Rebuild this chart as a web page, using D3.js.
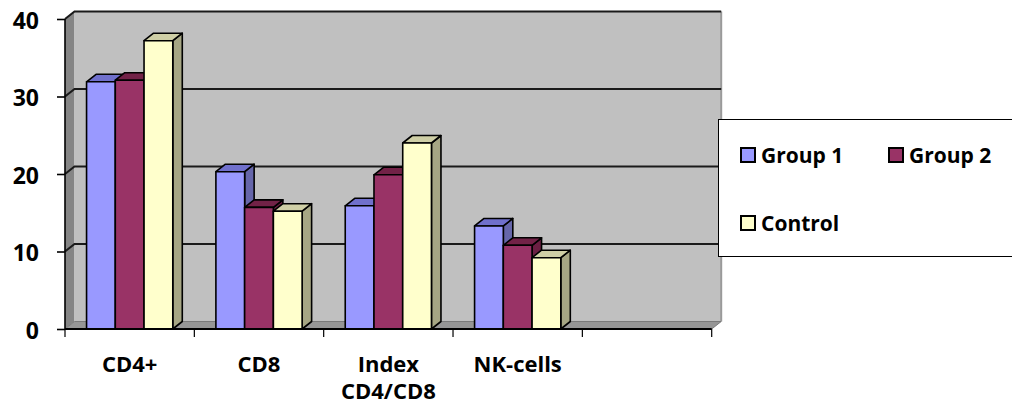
<!DOCTYPE html>
<html>
<head>
<meta charset="utf-8">
<script src="https://cdn.jsdelivr.net/npm/d3@7"></script>
<style>
  html, body { margin: 0; padding: 0; background: #fff; }
  text { font-family: "Open Sans", sans-serif; font-weight: 700; fill: #000; }
</style>
</head>
<body>
<script>
(function () {
  'use strict';

  // data
  const categories = ['CD4+', 'CD8', 'Index\nCD4/CD8', 'NK-cells', ''];
  const seriesNames = ['Group 1', 'Group 2', 'Control'];
  const group1  = [31.9, 20.3, 15.9, 13.3];
  const group2  = [32.1, 15.7, 19.9, 10.8];
  const control = [37.2, 15.2, 24.0, 9.2];
  const yTicks = [0, 10, 20, 30, 40];

  const seriesValues = [group1, group2, control];

  // colours: front, top, side
  const colors = [
    ['#9999ff', '#7070cc', '#6666aa'],
    ['#993366', '#722247', '#6b1f43'],
    ['#ffffcc', '#cfcfa6', '#a6a684']
  ];

  const W = 1012, H = 412;
  const DX = 9.5, DY = 7.5;   // 3d depth offset

  const svg = d3.select('body')
    .append('svg')
    .attr('width', W)
    .attr('height', H);

  const yScale = d3.scaleLinear()
    .domain([0, 40])
    .range([329, 19]);

  const xScale = d3.scaleBand()
    .domain(d3.range(categories.length))
    .range([65, 711.7]);

  const xInner = d3.scaleBand()
    .domain(seriesNames)
    .range([0, xScale.bandwidth()])
    .paddingInner(0)
    .paddingOuter(0.75);

  const x0 = xScale.range()[0], x1 = xScale.range()[1];
  const y0 = yScale(0), yTop = yScale(40);

  const pts = a => a.map(p => p.join(',')).join(' ');

  // left side wall
  svg.append('polygon')
    .attr('points', pts([[x0, yTop], [x0 + DX, yTop - DY], [x0 + DX, y0 - DY], [x0, y0]]))
    .attr('fill', '#858585');

  // back wall
  svg.append('rect')
    .attr('x', x0 + DX)
    .attr('y', yTop - DY)
    .attr('width', x1 - x0)
    .attr('height', y0 - yTop)
    .attr('fill', '#c0c0c0');

  svg.append('line')
    .attr('x1', x1 + DX).attr('x2', x1 + DX)
    .attr('y1', yTop - DY).attr('y2', y0 - DY)
    .attr('stroke', '#9a9a9a')
    .attr('stroke-width', 2);

  // floor
  svg.append('polygon')
    .attr('points', pts([[x0, y0], [x1, y0], [x1 + DX, y0 - DY], [x0 + DX, y0 - DY]]))
    .attr('fill', '#969696')
    .attr('stroke', '#7a7a7a')
    .attr('stroke-width', 1);

  // gridlines
  const grid = svg.append('g');
  yTicks.filter(t => t > 0).forEach(t => {
    const y = yScale(t);
    grid.append('polyline')
      .attr('points', pts([[x0, y], [x0 + DX, y - DY], [x1 + DX, y - DY]]))
      .attr('fill', 'none')
      .attr('stroke', '#1a1a1a')
      .attr('stroke-width', 2);
  });

  // bars
  const bars = svg.append('g');
  categories.forEach((c, ci) => {
    seriesValues.forEach((vals, si) => {
      const v = vals[ci];
      if (v === undefined) return;
      const bx = xScale(ci) + xInner(seriesNames[si]);
      const bw = xInner.bandwidth();
      const by = yScale(v);
      const col = colors[si];
      const g = bars.append('g')
        .attr('stroke', '#000')
        .attr('stroke-width', 1.6)
        .attr('stroke-linejoin', 'round');
      // side
      g.append('polygon')
        .attr('points', pts([[bx + bw, by], [bx + bw + DX, by - DY], [bx + bw + DX, y0 - DY], [bx + bw, y0]]))
        .attr('fill', col[2]);
      // top
      g.append('polygon')
        .attr('points', pts([[bx, by], [bx + DX, by - DY], [bx + bw + DX, by - DY], [bx + bw, by]]))
        .attr('fill', col[1]);
      // front
      g.append('rect')
        .attr('x', bx).attr('y', by)
        .attr('width', bw).attr('height', y0 - by)
        .attr('fill', col[0]);
    });
  });

  // axes
  const yAxis = d3.axisLeft(yScale)
    .tickValues(yTicks)
    .tickSize(8)
    .tickPadding(18);

  const yG = svg.append('g')
    .attr('transform', `translate(${x0},0)`)
    .call(yAxis);
  yG.select('.domain').remove();
  yG.append('line')
    .attr('x1', 0).attr('x2', 0)
    .attr('y1', yTop).attr('y2', y0)
    .attr('stroke', '#000').attr('stroke-width', 1.6);
  yG.selectAll('.tick line').attr('stroke', '#000').attr('stroke-width', 1.6);
  yG.selectAll('.tick text')
    .attr('font-size', 23)
    .attr('dy', '0.4em')
    .attr('font-family', '"Open Sans", sans-serif')
    .attr('font-weight', 700)
    .attr('fill', '#000');

  const xTickPos = d3.range(categories.length + 1).map(i => x0 + i * xScale.step());
  const xG = svg.append('g');
  xG.append('line')
    .attr('x1', x0).attr('x2', x1)
    .attr('y1', y0).attr('y2', y0)
    .attr('stroke', '#000').attr('stroke-width', 2);
  xG.selectAll('line.tk')
    .data(xTickPos)
    .enter()
    .append('line')
    .attr('class', 'tk')
    .attr('x1', d => d).attr('x2', d => d)
    .attr('y1', y0).attr('y2', y0 + 8)
    .attr('stroke', '#000').attr('stroke-width', 1.2);

  // category labels, one text per line
  categories.forEach((c, ci) => {
    c.split('\n').forEach((ln, li) => {
      if (!ln) return;
      xG.append('text')
        .attr('x', xScale(ci) + xScale.bandwidth() / 2)
        .attr('y', y0 + 43 + li * 27)
        .attr('text-anchor', 'middle')
        .attr('font-size', 22)
        .text(ln);
    });
  });

  // legend
  const lg = svg.append('g');
  lg.append('rect')
    .attr('x', 718.5).attr('y', 119.5)
    .attr('width', 320).attr('height', 137)
    .attr('fill', '#fff')
    .attr('stroke', '#000')
    .attr('stroke-width', 1);

  const legendPos = [[741, 148], [889, 148], [741, 216]];
  seriesNames.forEach((s, i) => {
    const [lx, ly] = legendPos[i];
    lg.append('rect')
      .attr('x', lx).attr('y', ly)
      .attr('width', 14).attr('height', 14)
      .attr('fill', colors[i][0])
      .attr('stroke', '#000')
      .attr('stroke-width', 2);
    lg.append('text')
      .attr('x', lx + 20)
      .attr('y', ly + 14.5)
      .attr('font-size', 21)
      .text(s);
  });
})();
</script>
</body>
</html>
